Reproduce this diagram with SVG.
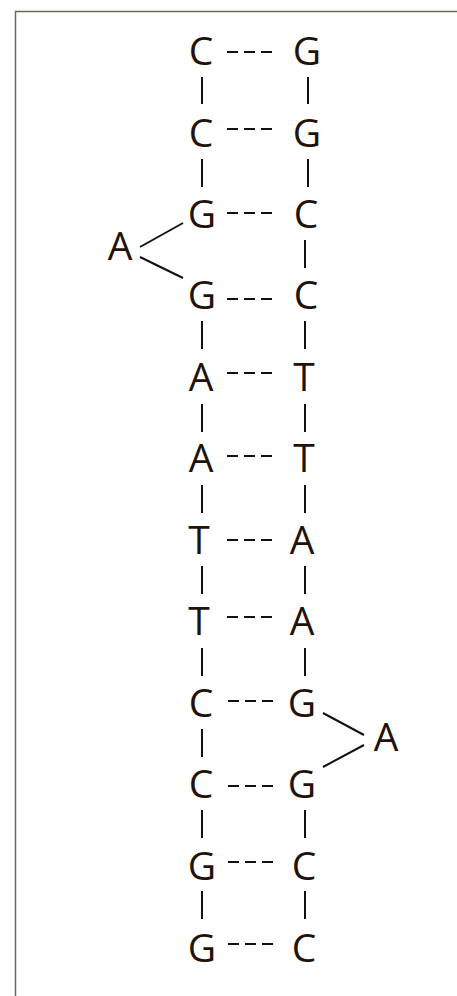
<svg xmlns="http://www.w3.org/2000/svg" width="457" height="996" viewBox="0 0 457 996">
  <style>
    .base { font-family: "Open Sans", "Noto Sans", "DejaVu Sans", sans-serif; font-size: 39px; fill: #1e1209; text-anchor: middle; }
    .bond { stroke: #111; stroke-width: 2; fill: none; }
    .pair { stroke: #111; stroke-width: 2; stroke-dasharray: 11 6; fill: none; }
    .frame { stroke: #6b6560; stroke-width: 1.5; fill: none; }
  </style>
  <rect width="457" height="996" fill="#fff"/>
  <path class="frame" d="M15.5 996 V11.5 H457"/>

  <!-- backbone and pairing connectors -->
  <g id="connectors">
    <!-- left strand backbone -->
    <path class="bond" d="M202 77 V104 M202 159 V187 M202 321 V349 M202 404 V432 M202 485 V513 M202 566 V594 M202 648 V676 M202 729 V757 M202 810 V838 M202 891 V919"/>
    <!-- right strand backbone -->
    <path class="bond" d="M308 77 V104 M308 159 V187 M305 240 V268 M305 321 V349 M305 404 V432 M305 485 V513 M305 566 V594 M305 648 V676 M305 810 V838 M305 891 V919"/>
    <!-- bulge on left strand -->
    <path class="bond" d="M140 247 L183 223 M140 257 L183 278"/>
    <!-- bulge on right strand -->
    <path class="bond" d="M323 713 L364 735 M323 767 L364 745"/>
    <!-- base pairs -->
    <path class="pair" d="M227 52 H273 M227 129 H273 M227 213 H273 M227 299 H273 M227 373 H273 M227 456 H273 M227 540 H273 M227 617 H273 M228 701 H274 M228 786 H274 M228 862 H274 M228 944 H274"/>
  </g>

  <!-- left strand -->
  <g id="L1"><text class="base" x="201" y="65">C</text></g>
  <g id="L2"><text class="base" x="201" y="147">C</text></g>
  <g id="L3"><text class="base" x="202" y="228">G</text></g>
  <g id="LA"><text class="base" x="120" y="260">A</text></g>
  <g id="L4"><text class="base" x="202" y="309">G</text></g>
  <g id="L5"><text class="base" x="201" y="391">A</text></g>
  <g id="L6"><text class="base" x="201" y="472">A</text></g>
  <g id="L7"><text class="base" x="199" y="554">T</text></g>
  <g id="L8"><text class="base" x="199" y="635">T</text></g>
  <g id="L9"><text class="base" x="201" y="717">C</text></g>
  <g id="L10"><text class="base" x="201" y="798">C</text></g>
  <g id="L11"><text class="base" x="202" y="880">G</text></g>
  <g id="L12"><text class="base" x="202" y="962">G</text></g>

  <!-- right strand -->
  <g id="R1"><text class="base" x="307" y="65">G</text></g>
  <g id="R2"><text class="base" x="307" y="147">G</text></g>
  <g id="R3"><text class="base" x="306" y="228">C</text></g>
  <g id="R4"><text class="base" x="306" y="309">C</text></g>
  <g id="R5"><text class="base" x="304" y="391">T</text></g>
  <g id="R6"><text class="base" x="304" y="472">T</text></g>
  <g id="R7"><text class="base" x="302" y="554">A</text></g>
  <g id="R8"><text class="base" x="302" y="635">A</text></g>
  <g id="R9"><text class="base" x="302" y="717">G</text></g>
  <g id="RA"><text class="base" x="386" y="751">A</text></g>
  <g id="R10"><text class="base" x="302" y="798">G</text></g>
  <g id="R11"><text class="base" x="304" y="880">C</text></g>
  <g id="R12"><text class="base" x="304" y="962">C</text></g>
</svg>
